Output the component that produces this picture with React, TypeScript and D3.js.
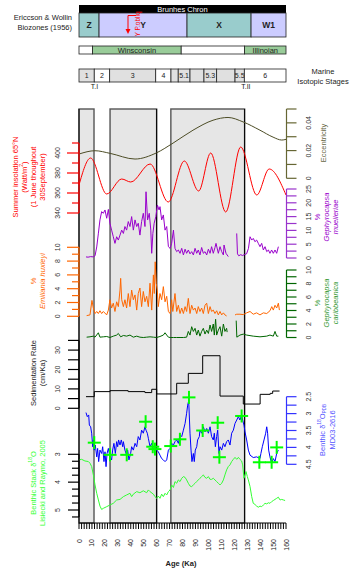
import React from 'react';
import * as d3 from 'd3';

const W = 351, H = 571;
const FONT = "'Liberation Sans', Arial, Helvetica, sans-serif";

// ---------- DATA ----------
const eccAge = [0, 12.4, 24, 43.3, 60, 72.7, 88.1, 103.6, 115.2, 126.8, 139.9, 150, 156.7, 160];
const eccVal = [0.0175, 0.0199, 0.018, 0.0139, 0.0184, 0.0254, 0.0347, 0.0419, 0.0439, 0.0407, 0.0347, 0.0297, 0.0276, 0.0281];

const insAge = [0, 9, 21.4, 33, 40, 55, 69, 81.4, 92.5, 101.8, 113.4, 125, 137.4, 147, 160];
const insVal = [368, 395, 359, 374, 371, 389, 351, 392, 362, 400, 341, 406, 358, 384, 358];

const mueAge = [5.4, 7, 9, 11, 12.4, 13.7, 15, 16.2, 17.5, 18.8, 20.1, 21.4, 22.7, 23.9, 25.2, 26.5, 27.8, 29.1, 30.4, 31.7, 33, 34.3, 35.5, 36.8, 38.1, 39.4, 40.7, 42, 43.3, 44.6, 45.8, 47.1, 48.4, 49.7, 51, 51.8, 53, 54.3, 55.5, 56.2, 57.1, 58.1, 59.4, 60.6, 61.9, 62.6, 63.9, 65.2, 66.5, 67.8, 69.1, 70.4, 71.6, 73, 74.2, 75.5, 76.8, 78.1, 79.4, 80.7, 82, 83.2, 84.5, 85.8, 87.1, 88.4, 89.7, 91, 92.2, 93.5, 94.8, 96.1, 97.4, 98.7, 100, 101.3, 102.5, 103.8, 105.1, 105.9, 107.7, 109, 110.3, 111.6, 112.1, 113.6, 115.4];
const mueVal = [0.4, 0.3, 0.5, 0.4, 0.8, 4, 9, 13.8, 16.8, 16.2, 17.4, 14.4, 17.6, 12.6, 10.1, 7.7, 5.3, 7.7, 6.5, 8.3, 10.1, 8.9, 11.4, 10.1, 13.2, 11.4, 15.0, 10.1, 13.8, 11.4, 12.6, 8.3, 13.2, 16.2, 11.4, 24.0, 13.8, 16.2, 10.1, 1.7, 8.9, 12.6, 15.0, 19.2, 17.4, 18.6, 13.8, 15.6, 10.1, 11.4, 4.1, 3.5, 5.3, 10.1, 3.5, 2.3, 2.9, 1.7, 3.5, 1.1, 3.2, 1.7, 2.9, 1.5, 2.3, 1.1, 3.5, 1.7, 2.9, 1.1, 3.8, 1.7, 2.3, 1.1, 3.2, 1.7, 4.1, 1.7, 3.8, 5.3, 1.7, 4.1, 2.3, 1.1, 4.7, 1.7, 0.5];
const mueAge2 = [121.9, 122.5, 123.5, 125, 126.5, 128, 129.5, 131, 132.2, 133.5, 134.7, 136, 137.3, 138.6, 139.9, 141.2, 142.5, 143.8, 145.1, 146.4, 147.6, 148.9, 150.2, 151.5, 152.8, 154.1];
const mueVal2 = [8.9, 1.5, 0.8, 1.2, 0.9, 1.3, 1.5, 3.5, 7.7, 6.5, 7.1, 5.9, 6.5, 5.3, 4.1, 5.3, 2.9, 4.1, 2.3, 2.9, 1.7, 2.9, 1.7, 2.9, 1.7, 4.1];

const huxAge = [5.9, 8.5, 10.0, 11.1, 12.4, 13.7, 14.95, 16.2, 17.5, 18.8, 21.4, 22.7, 23.9, 25.2, 26.5, 27.8, 29.1, 30.4, 31.7, 32.2, 33, 34.3, 35.5, 36.8, 38.1, 39.4, 40.7, 42, 43.3, 44.6, 45.8, 47.1, 48.4, 49.7, 51, 52.3, 53.6, 54.9, 56.2, 57.5, 58.2, 58.9, 59.7, 60.5, 61.3, 62.6, 63.9, 65.2, 66.5, 67.8, 69.1, 70.4, 71.6, 72.5, 74.2, 75.5, 76.8, 78.1, 79.4, 80.7, 82, 83.2, 84.5, 85.8, 87.1, 88.4, 89.7, 91, 92.2, 93.5, 94.8, 96.1, 97.4, 98.7, 100, 101.3, 102.5, 103.8, 105.1, 106.4, 107.7, 109, 110.3, 111.6, 112.8, 114.1];
const huxVal = [0.1, 0.2, 2.3, 1.2, 0.4, 0.7, 0.4, 0.8, 0.4, 0.7, 0.2, 0.9, 2.4, 1.2, 1.9, 0.7, 2.1, 1.4, 3.8, 5.5, 2.4, 1.4, 2.4, 1.2, 3.3, 1.4, 3.8, 2.4, 3.1, 0.9, 3.3, 4.1, 1.4, 3.6, 2.1, 2.9, 1.4, 4.8, 0.9, 6.0, 3.3, 7.9, 4.8, 3.8, 1.4, 3.3, 2.4, 4.3, 2.1, 2.9, 0.7, 0.4, 2.4, 0.7, 3.3, 0.7, 1.6, 0.4, 1.2, 0.4, 1.4, 0.7, 2.6, 0.4, 1.6, 0.9, 1.2, 0.4, 1.4, 0.7, 1.2, 0.4, 1.6, 1.9, 0.4, 1.4, 0.7, 0.9, 0.4, 0.8, 0.2, 0.7, 0.2, 0.5, 0.2, 0.05];
const huxAge2 = [120.6, 121.9, 124.4, 127, 129.6, 132.2, 134.7, 137.3, 139.9, 142.5, 145.1, 147.6, 149, 150.2, 151.5, 152.8, 154.1, 154.9];
const huxVal2 = [0.2, 0.3, 0.3, 0.25, 0.5, 0.7, 0.3, 0.5, 0.2, 0.5, 0.4, 0.8, 1.4, 0.9, 1.6, 1.2, 1.9, 0.9];

const carAge = [5.9, 8.5, 11.1, 12.4, 14.95, 16.2, 18.8, 21.4, 23.9, 26.5, 29.1, 30.4, 32.2, 34.3, 36.8, 39.4, 42, 44.6, 47.1, 49.7, 52.3, 54.9, 57.5, 60, 62.6, 65.2, 66.5, 67.8, 69.1, 70.4, 73, 75.5, 78.1, 80.7, 83.2, 84.5, 85.8, 87.1, 88.4, 89.7, 91, 92.2, 93.5, 94.8, 96.1, 97.4, 98.7, 100, 101.3, 102.5, 103.8, 104.6, 105.6, 106.4, 107.7, 109, 110.3, 111.6, 112.8, 114.1, 114.5];
const carVal = [0.05, 0.1, 0.2, 0.05, 0.7, 0.05, 0.1, 0.15, 0.0, 0.2, 0.36, 0.6, 0.1, 0.3, 0.2, 0.36, 0.05, 0.2, 0.05, 0.0, 0.05, 0.1, 0.05, 0.0, 0.15, 0.36, 0.7, 0.36, 0.05, 0.0, 0.0, 0.0, 0.0, 0.0, 0.05, 0.9, 0.36, 1.6, 0.9, 1.36, 0.36, 1.1, 0.2, 0.9, 1.36, 0.51, 1.1, 0.6, 1.85, 0.9, 2.0, 0.36, 2.7, 0.36, 1.1, 1.6, 0.2, 2.0, 0.9, 1.36, 0.8];
const carAge2 = [121.5, 122, 124.4, 127, 129.6, 134.7, 139.9, 145.1, 147.6, 150.2, 151.5, 152.8, 154.1];
const carVal2 = [2.5, 0.05, 0.36, 0.5, 0.36, 0.2, 0.1, 0.2, 0.36, 0.2, 0.9, 0.2, 0.2];

const sedAge = [5.4, 11.8, 24, 38, 51, 56.2, 60, 75.5, 84.5, 95.6, 109, 127, 140, 147.8, 149.7, 155];
const sedVal = [6.0, 8.6, 9.1, 8.6, 8.1, 9.8, 7.4, 12.9, 18.0, 27.1, 6.3, 2.2, 7.2, 7.7, 8.9, 8.9];

const benAge = [5.4, 6.4, 7.5, 8.0, 9.0, 9.8, 10.6, 11.1, 11.8, 12.6, 13.7, 14.4, 15.2, 16.2, 17.5, 18.3, 19.3, 20.1, 20.9, 21.7, 22.7, 23.9, 25.2, 26.0, 27.0, 28.1, 29.1, 29.9, 30.6, 31.7, 32.7, 33.8, 34.3, 35.5, 36.8, 37.6, 38.6, 39.9, 40.7, 42.0, 43.3, 44.6, 45.8, 47.1, 48.4, 49.7, 51.0, 51.8, 52.8, 53.6, 54.9, 56.2, 57.5, 58.7, 60.0, 61.3, 62.6, 63.9, 65.2, 66.5, 67.8, 69.1, 70.4, 71.6, 73.0, 74.2, 75.5, 76.8, 78.1, 79.4, 80.7, 82.0, 83.2, 84.0, 84.8, 85.8, 86.6, 87.3, 88.4, 89.1, 89.9, 91.0, 91.7, 93.0, 93.5, 94.8, 96.1, 97.4, 98.7, 100.0, 101.3, 102.5, 103.8, 104.6, 105.4, 106.4, 107.2, 108.2, 109.0, 110.3, 111.6, 112.8, 114.1, 115.4, 116.7, 118.0, 119.3, 120.6, 121.9, 123.2, 124.4, 125.7, 126.5, 127.5, 128.3, 129.6, 130.9, 132.2, 134.7, 137.3, 139.9, 140.6, 141.7, 143.0, 144.3, 145.1, 145.8, 146.6, 147.6, 148.9, 150.2, 151.5, 152.8, 154.1];
const benVal = [2.97, 3.09, 3.04, 3.34, 3.39, 3.58, 3.98, 3.78, 4.08, 3.93, 4.28, 4.03, 4.42, 4.08, 4.18, 3.98, 4.42, 4.13, 4.57, 4.18, 4.03, 4.28, 4.37, 4.08, 3.88, 4.18, 3.83, 3.98, 3.78, 3.93, 3.78, 3.98, 3.83, 4.08, 4.23, 4.08, 4.37, 4.18, 3.98, 4.08, 3.88, 3.98, 3.68, 3.78, 3.49, 3.58, 3.39, 3.49, 3.58, 3.73, 3.98, 3.88, 4.08, 3.98, 4.08, 4.13, 4.23, 4.33, 4.37, 4.42, 4.37, 4.08, 4.03, 3.88, 3.93, 3.83, 3.78, 3.88, 3.63, 3.68, 3.49, 3.29, 2.99, 2.75, 2.62, 3.58, 4.08, 4.42, 4.18, 4.42, 4.08, 3.98, 3.78, 3.68, 3.49, 3.58, 3.39, 3.54, 3.44, 3.58, 3.39, 3.68, 3.78, 3.58, 3.98, 3.68, 3.49, 4.18, 3.98, 4.08, 3.88, 3.98, 3.83, 3.78, 3.93, 3.58, 3.49, 3.29, 3.19, 3.09, 3.19, 3.04, 3.19, 3.34, 3.54, 3.78, 4.08, 4.23, 4.30, 4.28, 4.33, 4.18, 3.98, 3.78, 3.58, 3.39, 3.58, 4.08, 4.28, 4.47, 4.33, 4.42, 4.18, 4.08];

const crossAge = [11.8, 24, 36.9, 51.5, 57, 58.7, 70.9, 78, 85, 95.6, 107.2, 108.5, 125.7, 139.4, 148.9, 152.8];
const crossVal = [3.86, 4.22, 4.22, 3.24, 3.98, 4.05, 3.96, 3.76, 2.52, 3.5, 3.27, 4.29, 3.07, 4.44, 4.44, 4.0];

const lrAge = [0, 2, 4.6, 7.2, 8.5, 9.8, 11.1, 12.4, 13.7, 15, 16.2, 17.5, 18.8, 21.4, 23.9, 26.5, 29.1, 31.7, 34.3, 36.8, 39.4, 40.7, 42, 44.6, 47.1, 49.7, 52.3, 53.6, 54.9, 57.5, 58.7, 60, 61.3, 62.6, 63.9, 65.2, 66.5, 67.8, 69.1, 70.4, 71.6, 73, 74.2, 75.5, 76.8, 78.1, 79.4, 80.7, 82, 83.2, 84.5, 85.8, 87.1, 88.4, 89.7, 91, 92.2, 93.5, 94.8, 96.1, 97.4, 98.7, 100, 101.3, 102.5, 103.8, 105.1, 106.4, 107.7, 109, 110.3, 111.6, 112.8, 114.1, 115.4, 116.7, 118, 119.3, 120.6, 121.9, 123.2, 124.4, 125.7, 126.5, 127.5, 128.3, 129.1, 130.1, 130.9, 132.2, 133.5, 134.7, 136, 137.3, 138.6, 139.9, 141.2, 142.5, 143.8, 145.1, 146.4, 147.6, 148.9, 150.2, 151.5, 152.8, 154.1, 155.4, 156.7, 158, 159.3];
const lrVal = [3.20, 3.18, 3.24, 3.26, 3.32, 3.44, 3.74, 4.10, 4.40, 4.64, 4.86, 4.98, 4.94, 4.88, 4.82, 4.76, 4.64, 4.62, 4.52, 4.46, 4.40, 4.52, 4.43, 4.34, 4.38, 4.31, 4.38, 4.28, 4.34, 4.43, 4.52, 4.58, 4.50, 4.58, 4.43, 4.52, 4.40, 4.46, 4.34, 4.28, 4.10, 4.19, 3.98, 4.04, 3.92, 3.98, 3.86, 3.80, 3.83, 3.92, 4.04, 4.14, 4.16, 4.10, 4.04, 3.98, 3.92, 3.86, 3.80, 3.74, 3.83, 3.86, 3.80, 3.90, 3.90, 3.86, 3.92, 3.98, 4.04, 4.10, 4.04, 3.92, 3.74, 3.56, 3.44, 3.38, 3.26, 3.18, 3.11, 3.18, 3.11, 3.18, 3.24, 3.38, 3.86, 3.74, 3.62, 3.80, 3.92, 4.16, 4.52, 4.76, 4.80, 4.86, 4.90, 4.86, 4.88, 4.82, 4.76, 4.78, 4.74, 4.76, 4.70, 4.66, 4.62, 4.58, 4.54, 4.64, 4.62, 4.64, 4.66];

// shaded intervals (Ka)
const shadeStart = [0, 24, 71];
const shadeEnd = [11.6, 60, 128];

// header bars
const zoneNames = ['Z', 'Y', 'X', 'W1'];
const zoneStart = [0, 15.5, 83.5, 133];
const zoneEnd = [15.5, 83.5, 133, 160];
const zoneFill = ['#99cccc', '#ccccff', '#99cccc', '#ccccff'];

const glacNames = ['', 'Winsconsin', '', 'Illinoian'];
const glacStart = [0, 10.5, 79, 128];
const glacEnd = [10.5, 79, 128, 160];
const glacFill = ['#ffffff', '#99cc99', '#ffffff', '#99cc99'];

const misNames = ['1', '2', '3', '4', '', '5.1', '', '5.3', '', '5.5', '6'];
const misStart = [0, 11.8, 23.7, 59.3, 71.1, 76.7, 85.8, 96.6, 106.4, 120.6, 127.8];
const misEnd = [11.8, 23.7, 59.3, 71.1, 76.7, 85.8, 96.6, 106.4, 120.6, 127.8, 160];
const misFill = ['#e0e0e0', '#ffffff', '#e0e0e0', '#ffffff', '#e0e0e0', '#e0e0e0', '#e0e0e0', '#e0e0e0', '#e0e0e0', '#e0e0e0', '#ffffff'];

// axis ticks / labels
const ageTicks = d3.range(0, 161, 2);
const ageLabels = [0, 10, 20, 30, 40, 50, 60, 70, 80, 90, 100, 110, 120, 130, 140, 150, 160];
const insTicks = [340, 350, 360, 370, 380, 390, 400, 410];
const insLabels = [340, 360, 380, 400];
const eccTicks = [0, 0.01, 0.02, 0.03, 0.04, 0.05];
const eccLabels = [0, 0.02, 0.04];
const mueTicks = [0, 2.5, 5, 7.5, 10, 12.5, 15, 17.5, 20, 22.5, 25];
const mueLabels = [0, 5, 10, 15, 20, 25];
const huxTicks = [0, 1, 2, 3, 4, 5, 6, 7, 8, 9, 10];
const huxLabels = [0, 2, 4, 6, 8, 10];
const carTicks = [0, 1, 2, 3, 4, 5, 6, 7, 8, 9, 10];
const carLabels = [0, 2, 4, 6, 8, 10];
const sedTicks = [0, 5, 10, 15, 20, 25, 30, 35];
const sedLabels = [0, 10, 20, 30];
const benTicks = [2.5, 2.75, 3, 3.25, 3.5, 3.75, 4, 4.25, 4.5];
const benLabels = [2.5, 3, 3.5, 4, 4.5];
const lrTicks = [3, 3.25, 3.5, 3.75, 4, 4.25, 4.5, 4.75, 5, 5.25];
const lrLabels = [3, 4, 5];

type AxisProps = {
  x0: number; scale: d3.ScaleLinear<number, number>; ticks: number[]; labels: number[];
  side: 'left' | 'right'; color: string; labelColor?: string; majorLen?: number; minorLen?: number; labelX: number;
};

function VAxis({ x0, scale, ticks, labels, side, color, labelColor = '#333', majorLen = 10, minorLen = 10, labelX }: AxisProps) {
  const dir = side === 'left' ? -1 : 1;
  const ys = ticks.map(t => scale(t));
  return (
    <g>
      <line x1={x0} x2={x0} y1={d3.min(ys)} y2={d3.max(ys)} stroke={color} strokeWidth={1.2} />
      {ticks.map((t, i) => {
        const isMajor = labels.some(l => Math.abs(l - t) < 1e-9);
        const len = isMajor ? majorLen : minorLen;
        return <line key={i} x1={x0} x2={x0 + dir * len} y1={scale(t)} y2={scale(t)} stroke={color} strokeWidth={1.2} />;
      })}
      {labels.map((l, i) => (
        <text key={'l' + i} transform={`translate(${labelX},${scale(l)}) rotate(-90)`} textAnchor="middle"
          dominantBaseline="central" fontSize={7} fill={labelColor}>{String(l)}</text>
      ))}
    </g>
  );
}

function VTitle({ x, y, lines, color, italic }: { x: number[]; y: number; lines: (string | React.ReactNode)[]; color: string; italic?: boolean[] }) {
  return (
    <g>
      {lines.map((ln, i) => (
        <text key={i} transform={`translate(${x[i]},${y}) rotate(-90)`} textAnchor="middle" dominantBaseline="central"
          fontSize={7.5} fill={color} fontStyle={italic && italic[i] ? 'italic' : 'normal'}>{ln}</text>
      ))}
    </g>
  );
}

export default function App() {
  const x = d3.scaleLinear().domain([0, 160]).range([79, 286]);
  const yEcc = d3.scaleLinear().domain([0, 0.05]).range([178.3, 109]);
  const yIns = d3.scaleLinear().domain([340, 410]).range([213, 143]);
  const yMue = d3.scaleLinear().domain([0, 25]).range([258, 189]);
  const yHux = d3.scaleLinear().domain([0, 10]).range([316.3, 247.3]);
  const yCar = d3.scaleLinear().domain([0, 10]).range([337.5, 270]);
  const ySed = d3.scaleLinear().domain([0, 35]).range([408.3, 340.4]);
  const yBen = d3.scaleLinear().domain([2.5, 4.5]).range([396.7, 464.3]);
  const yLR = d3.scaleLinear().domain([3, 5]).range([454.3, 510]);

  const top = 109, bottom = 523;

  const mk = (ages: number[], vals: number[], ys: d3.ScaleLinear<number, number>, curve: d3.CurveFactory = d3.curveLinear) =>
    d3.line<number>().x((_, i) => x(ages[i])).y((v) => ys(v)).curve(curve)(vals) || '';

  const barRow = (names: string[], st: number[], en: number[], fills: string[], y0: number, h: number, fs: number, bold: boolean, key: string) => (
    <g key={key}>
      {names.map((n, i) => (
        <g key={i}>
          <rect x={x(st[i])} y={y0} width={x(en[i]) - x(st[i])} height={h} fill={fills[i]} stroke="#222" strokeWidth={0.8} />
          {n && <text x={(x(st[i]) + x(en[i])) / 2} y={y0 + h / 2} textAnchor="middle" dominantBaseline="central"
            fontSize={fs} fontWeight={bold ? 'bold' : 'normal'} fill="#222">{n}</text>}
        </g>
      ))}
    </g>
  );

  return (
    <svg width={W} height={H} style={{ position: 'absolute', left: 0, top: 0, background: '#fff' }} fontFamily={FONT}>
      <rect x={0} y={0} width={W} height={H} fill="#fff" />
      {/* Brunhes bar */}
      <rect x={x(0)} y={5} width={x(160) - x(0)} height={8} fill="#000" />
      <text x={(x(0) + x(160)) / 2} y={9.3} textAnchor="middle" dominantBaseline="central" fontSize={7.5} fill="#fff">Brunhes Chron</text>
      {barRow(zoneNames, zoneStart, zoneEnd, zoneFill, 13, 24, 8.5, true, 'zones')}
      {barRow(glacNames, glacStart, glacEnd, glacFill, 46, 8, 7.5, false, 'glac')}
      {barRow(misNames, misStart, misEnd, misFill, 69, 13, 7, false, 'mis')}
      <text x={x(12)} y={89} textAnchor="middle" fontSize={7} fill="#222">T.I</text>
      <text x={x(129)} y={89} textAnchor="middle" fontSize={7} fill="#222">T.II</text>
      <text x={72} y={20} textAnchor="end" fontSize={7.5} fill="#222">Ericcson &amp; Wollin</text>
      <text x={72} y={30} textAnchor="end" fontSize={7.5} fill="#222">Biozones (1956)</text>
      <text x={323} y={74} textAnchor="middle" fontSize={7.5} fill="#222">Marine</text>
      <text x={323} y={84} textAnchor="middle" fontSize={7.5} fill="#222">Isotopic Stages</text>
      {/* Y P.obliq arrow */}
      <path d="M136,15.5 H128 V30" fill="none" stroke="#ff0000" strokeWidth={1} />
      <path d="M125.5,29 L130.5,29 L128,34 Z" fill="#ff0000" />
      <text transform="translate(137.5,24) rotate(-90)" textAnchor="middle" dominantBaseline="central" fontSize={6.5} fill="#ff0000">Y P.obliq</text>

      {/* shaded intervals */}
      {shadeStart.map((s, i) => (
        <rect key={i} x={x(s)} y={top} width={x(shadeEnd[i]) - x(s)} height={bottom - top} fill="#e6e6e6" stroke="#555" strokeWidth={1.4} />
      ))}
      {[0, 60, 128].map((a, i) => (
        <line key={i} x1={x(a)} x2={x(a)} y1={top} y2={bottom} stroke="#000" strokeWidth={1} />
      ))}

      {/* series */}
      <path d={mk(eccAge, eccVal, yEcc, d3.curveMonotoneX)} fill="none" stroke="#4d4d26" strokeWidth={1} />
      <path d={mk(insAge, insVal, yIns, d3.curveMonotoneX)} fill="none" stroke="#ff0000" strokeWidth={1} />
      <path d={mk(mueAge, mueVal, yMue)} fill="none" stroke="#9900cc" strokeWidth={1} />
      <path d={mk(mueAge2, mueVal2, yMue)} fill="none" stroke="#9900cc" strokeWidth={1} />
      <path d={mk(huxAge, huxVal, yHux)} fill="none" stroke="#ff6600" strokeWidth={1} />
      <path d={mk(huxAge2, huxVal2, yHux)} fill="none" stroke="#ff6600" strokeWidth={1} />
      <path d={mk(carAge, carVal, yCar)} fill="none" stroke="#006600" strokeWidth={1} />
      <path d={mk(carAge2, carVal2, yCar)} fill="none" stroke="#006600" strokeWidth={1} />
      <path d={mk(sedAge, sedVal, ySed, d3.curveStepAfter)} fill="none" stroke="#000" strokeWidth={1} />
      <path d={mk(lrAge, lrVal, yLR)} fill="none" stroke="#33ff33" strokeWidth={1} />
      <path d={mk(benAge, benVal, yBen)} fill="none" stroke="#0000ff" strokeWidth={1} />
      {crossAge.map((a, i) => (
        <g key={i} stroke="#00ff00" strokeWidth={2}>
          <line x1={x(a) - 6.5} x2={x(a) + 6.5} y1={yBen(crossVal[i])} y2={yBen(crossVal[i])} />
          <line x1={x(a)} x2={x(a)} y1={yBen(crossVal[i]) - 6.5} y2={yBen(crossVal[i]) + 6.5} />
        </g>
      ))}

      {/* left axes */}
      <VAxis x0={79} scale={yIns} ticks={insTicks} labels={insLabels} side="left" color="#ff0000" majorLen={12} minorLen={7} labelX={57} />
      <VAxis x0={79} scale={yHux} ticks={huxTicks} labels={huxLabels} side="left" color="#ff6600" majorLen={12} minorLen={7} labelX={57} />
      <VAxis x0={79} scale={ySed} ticks={sedTicks} labels={sedLabels} side="left" color="#000" majorLen={11} minorLen={11} labelX={57} />
      <VAxis x0={79} scale={yLR} ticks={lrTicks} labels={lrLabels} side="left" color="#000" majorLen={11} minorLen={7} labelX={57} />
      {/* right axes */}
      <VAxis x0={286.5} scale={yEcc} ticks={eccTicks} labels={eccLabels} side="right" color="#666633" labelX={308} />
      <VAxis x0={286.5} scale={yMue} ticks={mueTicks} labels={mueLabels} side="right" color="#9933cc" labelX={308} />
      <VAxis x0={286.5} scale={yCar} ticks={carTicks} labels={carLabels} side="right" color="#006600" labelX={308} />
      <VAxis x0={286.5} scale={yBen} ticks={benTicks} labels={benLabels} side="right" color="#3333ff" labelX={308} />

      {/* bottom axis */}
      <line x1={x(0)} x2={x(160)} y1={bottom} y2={bottom} stroke="#000" strokeWidth={1.2} />
      {ageTicks.map((t, i) => (
        <line key={i} x1={x(t)} x2={x(t)} y1={bottom} y2={bottom + 6} stroke="#000" strokeWidth={1} />
      ))}
      {ageLabels.map((t, i) => (
        <text key={i} transform={`translate(${x(t)},${539}) rotate(-90)`} textAnchor="end" dominantBaseline="central" fontSize={7} fill="#222">{String(t)}</text>
      ))}
      <text x={181} y={566} textAnchor="middle" fontSize={7.5} fontWeight="bold" fill="#222">Age (Ka)</text>

      {/* titles */}
      <VTitle x={[15, 24, 33, 42]} y={177} color="#ff0000"
        lines={['Summer insolation 65°N', <tspan key="w">(Watt/m<tspan baselineShift="super" fontSize={5}>2</tspan>)</tspan>, '(1 June thoughout', '30September)']} />
      <VTitle x={[33, 42]} y={281} color="#ff6600" lines={['%', 'Emiliania huxleyi']} italic={[false, true]} />
      <VTitle x={[33, 42]} y={373} color="#222" lines={['Sedimentation Rate', '(cm/Ka)']} />
      <VTitle x={[33, 42]} y={483} color="#33ff33"
        lines={[<tspan key="b">Benthic Stack δ<tspan baselineShift="super" fontSize={5}>18</tspan>O</tspan>, 'Lisiecki and Raymo, 2005']} />
      <VTitle x={[323]} y={143} color="#666644" lines={['Eccentricity']} />
      <VTitle x={[317, 326, 335]} y={217} color="#9900cc" lines={['%', 'Gephyrocapsa', 'muelleriae']} italic={[false, true, true]} />
      <VTitle x={[317, 326, 335]} y={303} color="#339933" lines={['%', 'Gephyrocapsa', 'caribbeanica']} italic={[false, true, true]} />
      <VTitle x={[322, 332]} y={430} color="#5555ff"
        lines={[<tspan key="b">Benthic δ<tspan baselineShift="super" fontSize={5}>18</tspan>O<tspan baselineShift="sub" fontSize={4.5}>PDB</tspan></tspan>, 'MD03-2616']} />
    </svg>
  );
}
